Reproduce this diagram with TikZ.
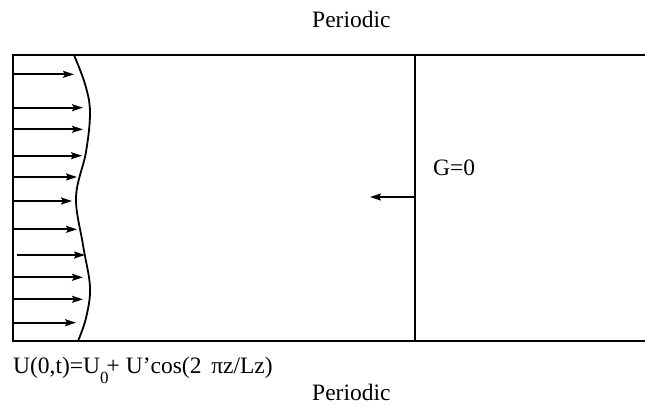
\documentclass[tikz,border=0pt]{standalone}
\usepackage{fontspec}
\setmainfont{Liberation Serif}
\usetikzlibrary{arrows.meta,positioning}

\tikzset{
  wall/.style={line width=2.2pt},
  inflow/.style={line width=1.8pt, -{Stealth[length=11pt,width=7pt,inset=2pt]}},
  lbl/.style={font=\fontsize{23.5}{27}\selectfont, inner sep=0pt, anchor=base west},
}

\begin{document}
\begin{tikzpicture}[x=1pt,y=-1pt]
    \useasboundingbox (0,0) rectangle (645,407);
    % channel walls, open to the right
    \draw[wall] (645,55) -- (13,55) -- (13,341) -- (645,341);
    % outflow plane
    \coordinate (gtop) at (415,55);
    \coordinate (gbot) at (415,341);
    \coordinate (gmid) at (415,197);
    \coordinate (gend) at (370,197);
    \draw[wall] (gtop) -- (gbot);
    \draw[inflow] (gmid) -- (gend);
    % inlet profile
    \draw[line width=1.8pt] plot[smooth, tension=0.6] coordinates
        {(74,55) (85,84) (90,112) (86,152) (76,197) (83,245) (90,287) (86,318) (78,341)};
    \foreach \yy/\xs/\xt [count=\i] in {74.3/13/74, 107.7/13/83, 129.3/13/83, 155.7/13/82,
        177/13/77, 201/13/72, 229.3/13/77, 255/17/85, 277.3/13/83, 299.3/13/83, 322.7/13/76} {
        \coordinate (in\i) at (\xs,\yy);
        \coordinate (tip\i) at (\xt,\yy);
        \draw[inflow] (in\i) -- (tip\i);
    }
    % labels
    \node[lbl] (ptop) at (312,27) {Periodic};
    \node[lbl] (pbot) at (312,400) {Periodic};
    \node[lbl] (gzero) at (433,175) {G=0};
    \node[lbl] (inlet) at (13,373)
        {U(0,t)=U\raisebox{-10pt}{\fontsize{17}{17}\selectfont 0}\kern-2pt+ U’cos(2 \,πz/Lz)};
\end{tikzpicture}
\end{document}
